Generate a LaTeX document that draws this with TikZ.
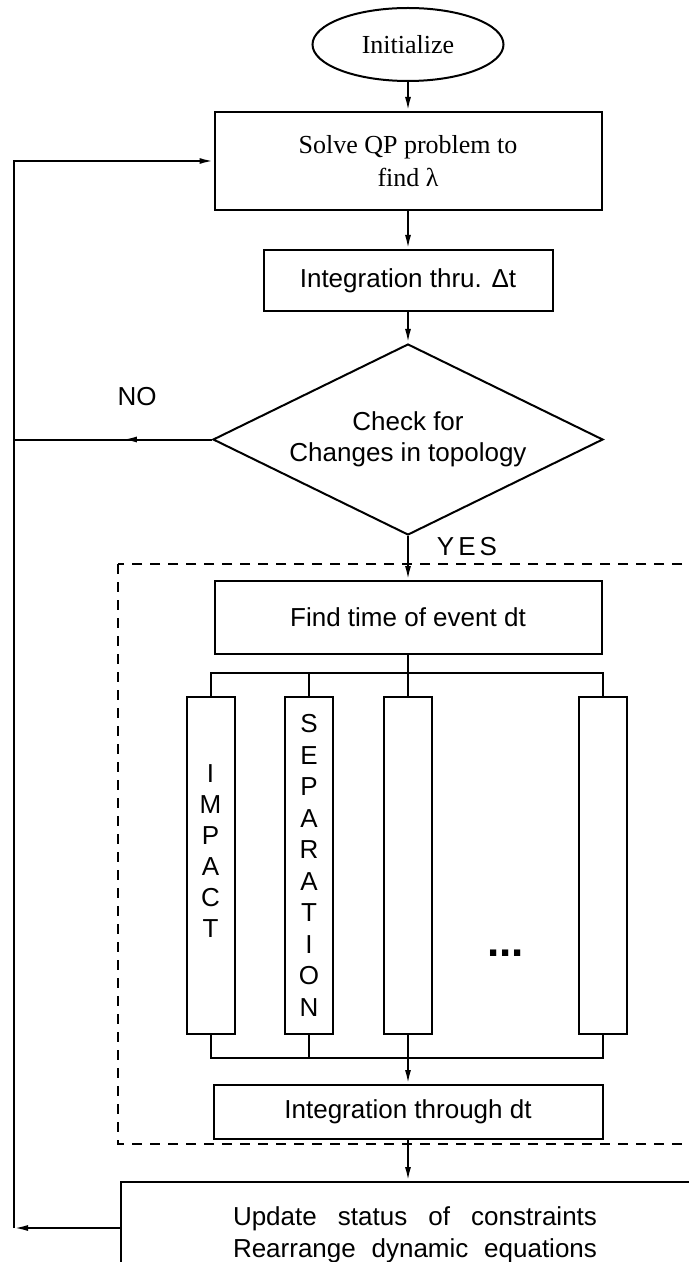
\documentclass[tikz,border=0pt]{standalone}
\usepackage{fontspec}
\setmainfont{Liberation Serif}
\setsansfont{Liberation Sans}
\usepackage{tikz}
\usetikzlibrary{shapes.geometric,positioning,arrows.meta,decorations.markings,calc}
\tikzset{
  flow/.style={-{Latex[length=7pt,width=3pt]}},
  midarrow/.style={postaction={decorate},decoration={markings,mark=at position 0.45 with {\arrow{Latex[length=7pt,width=3pt]}}}},
  procbox/.style={draw,rectangle,line width=1pt,inner sep=0pt,align=center,font=\sffamily\fontsize{13}{16}\selectfont},
  bar/.style={procbox,minimum width=24pt,minimum height=168.5pt,font=\sffamily\fontsize{13}{15.75}\selectfont},
  lbl/.style={font=\sffamily\fontsize{13}{16}\selectfont,inner sep=0pt},
  dashframe/.style={dash pattern=on 5pt off 4pt,line width=0.8pt}
}

\begin{document}
\begin{tikzpicture}[x=0.5pt,y=-0.5pt,line width=1pt]
        \useasboundingbox (0,0) rectangle (689,1262);
        \node[draw,ellipse,minimum width=95.5pt,minimum height=36.5pt,inner sep=0pt,font=\fontsize{13}{16}\selectfont] (init) at (408,44.5) {Initialize};
        \node[procbox,minimum width=193.5pt,minimum height=49pt,font=\fontsize{13}{16.5}\selectfont] (solve) [below=14.5pt of init] {Solve QP problem to\\find λ};
        \node[procbox,minimum width=144.5pt,minimum height=30.5pt] (integ) [below=19pt of solve] {Integration thru. Δt};
        \node[draw,diamond,aspect=2.04,minimum width=195pt,minimum height=95.5pt,inner sep=0pt,align=center,font=\sffamily\fontsize{13}{15.5}\selectfont] (check) [below=15.5pt of integ] {Check for\\Changes in topology};
        \node[procbox,minimum width=193.5pt,minimum height=36.5pt] (find) [below=22pt of check] {Find time of event dt};
        \path[flow] (init) edge (solve);
        \path[flow] (solve) edge (integ);
        \path[flow] (integ) edge (check);
        \path[flow] (check) edge (find);
        % Event types
        \node[bar] (blank3) [below=20.5pt of find] {};
        \node[bar] (sep) [left=24.5pt of blank3] {S\\E\\P\\A\\R\\A\\T\\I\\O\\N};
        \node[bar] (impact) [left=24.25pt of sep] {};
        \node[lbl,align=center,font=\sffamily\fontsize{13}{15.5}\selectfont] (impacttxt) at ([yshift=7pt]impact.center) {I\\M\\P\\A\\C\\T};
        \node[bar] (blank4) [right=72.5pt of blank3] {};
        \node[lbl,font=\sffamily\bfseries\fontsize{22}{22}\selectfont] (dots) at ($(blank3)!0.5!(blank4)+(0,88)$) {...};
        \coordinate (topbus) at ([yshift=-9pt]find.south);
        \draw (find.south) -- (blank3.north);
        \draw (impact.north) -- (impact.north |- topbus) -- (blank4.north |- topbus) -- (blank4.north);
        \draw (sep.north) -- (sep.north |- topbus);
        \node[procbox,minimum width=194.5pt,minimum height=27pt] (intdt) [below=24.5pt of blank3] {Integration through dt};
        \coordinate (botbus) at ([yshift=-11.5pt]blank3.south);
        \draw (impact.south) -- (impact.south |- botbus) -- (blank4.south |- botbus) -- (blank4.south);
        \draw (sep.south) -- (sep.south |- botbus);
        \draw[flow] (blank3.south) -- (intdt.north);
        \node[procbox,minimum width=287pt,minimum height=53pt] (update) [below=20.5pt of intdt] {\hspace*{7pt}\makebox[182pt][s]{Update status of constraints}\\\hspace*{7pt}\makebox[182pt][s]{Rearrange dynamic equations}};
        \draw[flow] (intdt) -- (update);
        % Dashed frame round the event handling
        \draw[dashframe] (118,564) rectangle (720,1144);
        % Branch labels
        \node[lbl] (nolbl) at (137,397) {NO};
        \node[lbl] (yeslbl) at (467,547) {Y\kern2pt E\kern2pt S};
        % Loop back to the QP step
        \coordinate (loopx) at (14,0);
        \coordinate (upd) at ([yshift=3.5pt]update.west);
        \coordinate (corner) at (upd -| loopx);
        \draw[flow] (upd) -- (corner);
        \draw[flow] (corner) -- (solve.west -| loopx) -- (solve.west);
        \draw[midarrow] (check.west) -- (check.west -| loopx);
    \end{tikzpicture}
\end{document}
